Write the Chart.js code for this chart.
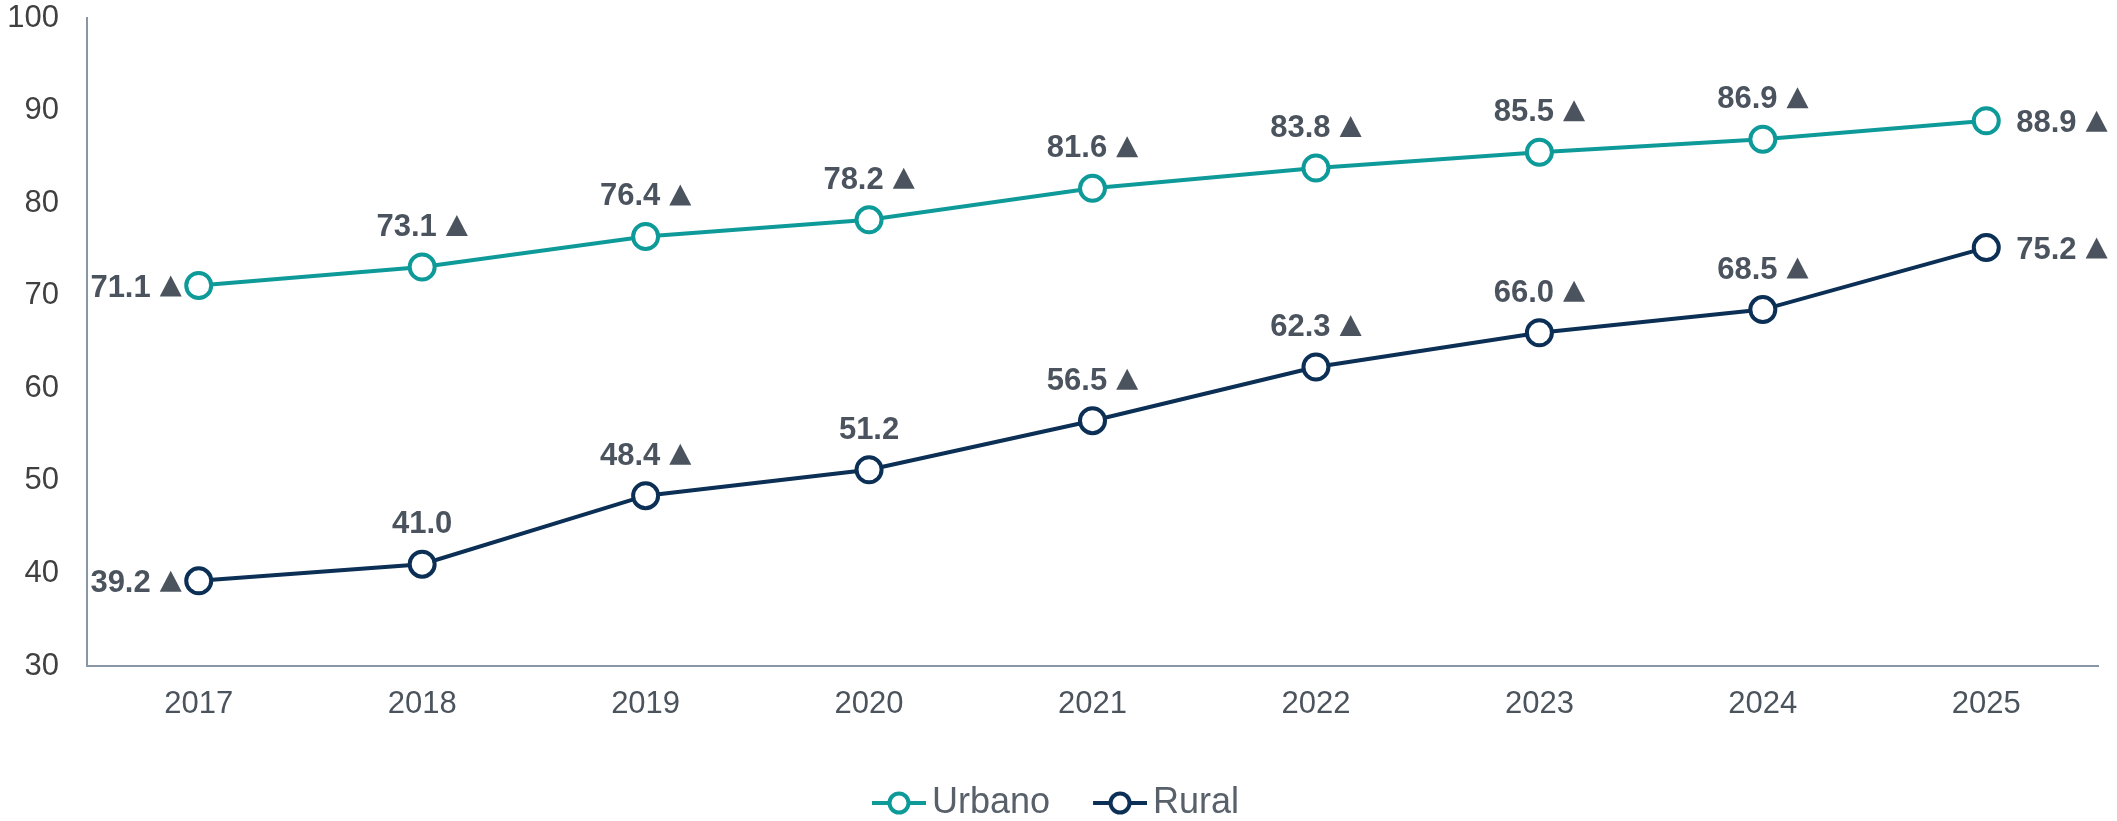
<!DOCTYPE html>
<html lang="es">
<head>
<meta charset="UTF-8">
<title>Urbano / Rural</title>
<style>
  html, body { margin: 0; padding: 0; background: #fff; }
  #wrap { width: 2117px; height: 821px; }
</style>
<script src="https://cdn.jsdelivr.net/npm/chart.js"></script>
</head>
<body>
<div id="wrap"><canvas id="chart"></canvas></div>
<script>
const years = ['2017', '2018', '2019', '2020', '2021', '2022', '2023', '2024', '2025'];
const urbano = [71.1, 73.1, 76.4, 78.2, 81.6, 83.8, 85.5, 86.9, 88.9];
const rural = [39.2, 41.0, 48.4, 51.2, 56.5, 62.3, 66.0, 68.5, 75.2];
// which values carry the ▲ mark
const urbanoUp = [true, true, true, true, true, true, true, true, true];
const ruralUp = [true, false, true, false, true, true, true, true, true];
const yMin = 30, yMax = 100, yStep = 10;

const TEAL = '#0f9a9a';
const NAVY = '#0b2f55';
const LABEL = '#4b545e';
const FONT = '"Liberation Sans", Arial, sans-serif';
const MARK_W = 55;   // legend pointStyleWidth
const LEG_PAD = 30;  // legend padding

// legend marker: short line with open circle, drawn off-centre so the gaps match
function makeMarker(color) {
  const w = MARK_W + 24;
  const c = document.createElement('canvas');
  c.width = w; c.height = 30;
  const g = c.getContext('2d');
  g.strokeStyle = color;
  g.lineWidth = 4;
  g.beginPath();
  g.moveTo(w - 54, 15); g.lineTo(w, 15);
  g.stroke();
  g.beginPath();
  g.arc(w - 27, 15, 9.5, 0, Math.PI * 2);
  g.fillStyle = '#fff';
  g.fill();
  g.stroke();
  return c;
}

const valueLabels = {
  id: 'valueLabels',
  afterDatasetsDraw(chart) {
    const ctx = chart.ctx;
    ctx.save();
    ctx.font = 'bold 31px ' + FONT;
    ctx.fillStyle = LABEL;
    ctx.textAlign = 'left';
    ctx.textBaseline = 'alphabetic';
    chart.data.datasets.forEach((ds, di) => {
      const pts = chart.getDatasetMeta(di).data;
      pts.forEach((pt, i) => {
        const txt = ds.data[i].toFixed(1);
        const tw = ctx.measureText(txt).width;
        const up = ds.up[i];
        const total = tw + (up ? 31 : 0);
        let x0, cy;
        if (i === 0) { x0 = pt.x - 17 - total; cy = pt.y; }
        else if (i === pts.length - 1) { x0 = pt.x + 30; cy = pt.y; }
        else { x0 = pt.x - total / 2; cy = pt.y - 42; }
        const base = cy + 11;
        ctx.fillText(txt, x0, base);
        if (up) {
          const tx = x0 + tw + 9;
          ctx.beginPath();
          ctx.moveTo(tx, base);
          ctx.lineTo(tx + 22, base);
          ctx.lineTo(tx + 11, base - 21);
          ctx.closePath();
          ctx.fill();
        }
      });
    });
    ctx.restore();
  }
};

const ctx = document.getElementById('chart').getContext('2d');

new Chart(ctx, {
  type: 'line',
  data: {
    labels: years,
    datasets: [{
      label: 'Urbano',
      data: urbano,
      up: urbanoUp,
      borderColor: TEAL,
      backgroundColor: '#fff',
      marker: makeMarker(TEAL)
    }, {
      label: 'Rural',
      data: rural,
      up: ruralUp,
      borderColor: NAVY,
      backgroundColor: '#fff',
      marker: makeMarker(NAVY)
    }]
  },
  options: {
    responsive: true,
    maintainAspectRatio: false,
    animation: false,
    elements: {
      line: { borderWidth: 4, tension: 0 },
      point: { radius: 12.5, borderWidth: 4, backgroundColor: '#fff' }
    },
    layout: { padding: { top: 18, right: 19, left: 0, bottom: -10 } },
    plugins: {
      tooltip: { enabled: false },
      legend: {
        position: 'bottom',
        labels: {
          usePointStyle: true,
          pointStyleWidth: MARK_W,
          padding: LEG_PAD,
          color: '#58606a',
          font: { family: FONT, size: 36 },
          generateLabels(chart) {
            return chart.data.datasets.map((ds, i) => ({
              text: ds.label,
              fontColor: '#58606a',
              pointStyle: ds.marker,
              datasetIndex: i,
              lineWidth: 0,
              strokeStyle: ds.borderColor,
              fillStyle: '#fff'
            }));
          }
        }
      }
    },
    scales: {
      x: {
        offset: true,
        grid: { display: false, drawTicks: false, offset: true },
        border: { display: true, color: '#8896a5', width: 2 },
        ticks: { color: '#4b535c', padding: 20, font: { family: FONT, size: 31 } },
        afterFit(scale) { scale.height = 89; }
      },
      y: {
        min: yMin,
        max: yMax,
        grid: { display: false, drawTicks: false },
        border: { display: true, color: '#8896a5', width: 2 },
        ticks: { stepSize: yStep, color: '#404040', padding: 28, font: { family: FONT, size: 31 } },
        afterFit(scale) {
          scale.width = 87;
          scale.paddingTop = 0;
          scale.paddingBottom = 0;
        }
      }
    }
  },
  plugins: [valueLabels]
});
</script>
</body>
</html>
